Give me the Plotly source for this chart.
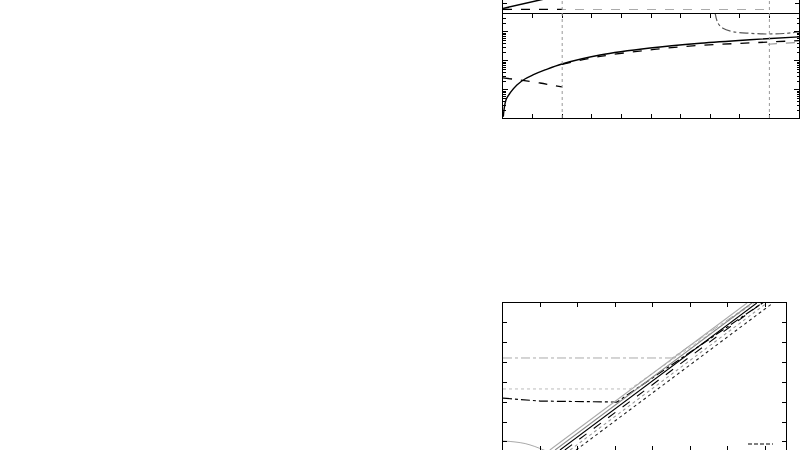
import plotly.graph_objects as go

# ---------------- data ----------------
# top panel (linear, only the lower strip is visible)
top_solid_x = [0.0, 1.5]
top_solid_y = [0.55, 1.57]
top_dash_x = [0.0, 2.0]
top_dash_y = [0.47, 0.47]
top_gray_x = [0.0, 8.85]
top_gray_y = [0.45, 0.45]

# middle panel (log y)
mid_solid_x = [0.01, 0.034, 0.10, 0.24, 0.47, 0.74, 1.01, 1.42, 1.99, 3.28, 4.97, 6.66, 8.34, 10.0]
mid_solid_y = [1.2, 2.04, 4.5, 7.9, 14.9, 23.9, 32.9, 49, 78.8, 161, 281, 410, 540, 680]
mid_dash_x = [0.0, 0.57, 1.25, 1.99, None, 1.99, 3.28, 4.97, 6.66, 8.34, 10.0]
mid_dash_y = [26, 22.1, 17.4, 12.7, None, 76.5, 143, 242, 345, 420, 505]
mid_dashdot_x = [7.16, 7.26, 7.43, 7.77, 8.34, 8.92, 9.49, 10.0]
mid_dashdot_y = [4900, 2040, 1343, 1023, 902, 853, 888, 1000]
mid_gray_x = [8.95, 10.0]
mid_gray_y = [377, 441]

# bottom panel
bot_curve_x = [0.0, 0.32, 0.59, 0.85, 1.12]
bot_curve_y = [1.05, 1.0, 0.92, 0.77, 0.57]
bot_gdd_x = [0.0, 4.51, 6.80]
bot_gdd_y = [5.23, 5.23, 8.2]
bot_gdot_x = [0.0, 3.39, 6.85]
bot_gdot_y = [3.67, 3.67, 8.2]
bot_kdd_x = [0.0, 0.99, 3.04, 7.0]
bot_kdd_y = [3.21, 3.06, 3.01, 8.1]
# diagonal bundle: x at bottom edge (y=0.595) and top edge (y=8)
bundle_x0 = [1.25, 1.39, 1.52, 1.65, 1.79, 1.95]
bundle_x1 = [6.51, 6.64, 6.77, 6.91, 7.04, 7.20]
bundle_y = [0.595, 8.0]
bundle_colors = ["#aaaaaa", "#888888", "#000000", "#000000", "#999999", "#222222"]
bundle_dash = ["solid", "solid", "solid", "dash", "dot", "dot"]

GRID_X = [2.0, 9.0]

fig = go.Figure()

# top panel
fig.add_trace(go.Scatter(x=top_solid_x, y=top_solid_y, mode="lines", xaxis="x", yaxis="y",
                         line=dict(color="black", width=1.5)))
fig.add_trace(go.Scatter(x=top_gray_x, y=top_gray_y, mode="lines", xaxis="x", yaxis="y",
                         line=dict(color="#aaaaaa", width=1.2, dash="dash")))
fig.add_trace(go.Scatter(x=top_dash_x, y=top_dash_y, mode="lines", xaxis="x", yaxis="y",
                         line=dict(color="black", width=1.2, dash="dash")))

# middle panel
fig.add_trace(go.Scatter(x=mid_solid_x, y=mid_solid_y, mode="lines", xaxis="x2", yaxis="y2",
                         line=dict(color="black", width=1.4, shape="spline")))
fig.add_trace(go.Scatter(x=mid_dash_x, y=mid_dash_y, mode="lines", xaxis="x2", yaxis="y2",
                         line=dict(color="black", width=1.3, dash="dash", shape="spline")))
fig.add_trace(go.Scatter(x=mid_dashdot_x, y=mid_dashdot_y, mode="lines", xaxis="x2", yaxis="y2",
                         line=dict(color="#555555", width=1.2, dash="dashdot", shape="spline")))
fig.add_trace(go.Scatter(x=mid_gray_x, y=mid_gray_y, mode="lines", xaxis="x2", yaxis="y2",
                         line=dict(color="#999999", width=1.2, dash="dash")))

# bottom panel
fig.add_trace(go.Scatter(x=bot_curve_x, y=bot_curve_y, mode="lines", xaxis="x3", yaxis="y3",
                         line=dict(color="#aaaaaa", width=1, shape="spline")))
fig.add_trace(go.Scatter(x=bot_gdd_x, y=bot_gdd_y, mode="lines", xaxis="x3", yaxis="y3",
                         line=dict(color="#aaaaaa", width=1, dash="dashdot")))
fig.add_trace(go.Scatter(x=bot_gdot_x, y=bot_gdot_y, mode="lines", xaxis="x3", yaxis="y3",
                         line=dict(color="#bbbbbb", width=1, dash="dot")))
fig.add_trace(go.Scatter(x=bot_kdd_x, y=bot_kdd_y, mode="lines", xaxis="x3", yaxis="y3",
                         line=dict(color="black", width=1.2, dash="dashdot")))
for x0, x1, c, d in zip(bundle_x0, bundle_x1, bundle_colors, bundle_dash):
    fig.add_trace(go.Scatter(x=[x0, x1], y=bundle_y, mode="lines", xaxis="x3", yaxis="y3",
                             line=dict(color=c, width=1.1, dash=d)))

XD_TOP = [503 / 800, 799 / 800]
XD_BOT = [503 / 800, 786 / 800]
YD_TOP = [1 - 14 / 450, 1]
YD_MID = [1 - 118 / 450, 1 - 14 / 450]
YD_BOT = [0, 1 - 303 / 450]

common = dict(showgrid=False, zeroline=False, showticklabels=False, showline=True,
              linecolor="black", linewidth=1)

fig.update_layout(
    width=800, height=450, margin=dict(l=0, r=0, t=0, b=0),
    paper_bgcolor="white", plot_bgcolor="white", showlegend=False,
    xaxis=dict(domain=XD_TOP, range=[0, 10], anchor="y", ticks="", mirror=False,
               showgrid=False, zeroline=False, showticklabels=False, showline=False),
    yaxis=dict(domain=YD_TOP, range=[0, 1.4], anchor="x", ticks="inside", ticklen=4,
               tickvals=[1.1], mirror="allticks", tickcolor="black", **common),
    xaxis2=dict(domain=XD_TOP, range=[0, 10], anchor="y2", ticks="inside", ticklen=4,
                dtick=1, tick0=0, mirror="allticks", tickcolor="black", **common),
    yaxis2=dict(domain=YD_MID, type="log", range=[0.034, 3.62], anchor="x2",
                ticks="inside", ticklen=5, tickvals=[10, 100, 1000], mirror="allticks",
                tickcolor="black",
                minor=dict(ticks="inside", ticklen=2.5, tickcolor="black",
                           tickvals=[v * m for m in (1, 10, 100, 1000) for v in range(2, 10)]),
                **common),
    xaxis3=dict(domain=XD_BOT, range=[0, 7.55], anchor="y3", side="top", ticks="inside",
                ticklen=4, dtick=1, tick0=0, mirror="allticks", tickcolor="black", **common),
    yaxis3=dict(domain=YD_BOT, range=[0.595, 8.0], anchor="x3", side="right", ticks="inside",
                ticklen=4, dtick=1, tick0=0, mirror="allticks", tickcolor="black", **common),
)

# vertical dotted grid lines through top and middle panels
for gx in GRID_X:
    fig.add_shape(type="line", xref="x2", yref="paper", x0=gx, x1=gx,
                  y0=YD_MID[0], y1=1, line=dict(color="#999999", width=1, dash="dot"))

# legend sample (key line) in bottom-right
fig.add_shape(type="line", xref="paper", yref="paper", x0=748 / 800, x1=773 / 800,
              y0=1 - 444 / 450, y1=1 - 444 / 450,
              line=dict(color="black", width=1.2, dash="4px,2px"))

fig.write_html("out.html", config={"displayModeBar": False, "staticPlot": True},
               post_script="document.body.style.margin='0';document.body.style.overflow='hidden';")
